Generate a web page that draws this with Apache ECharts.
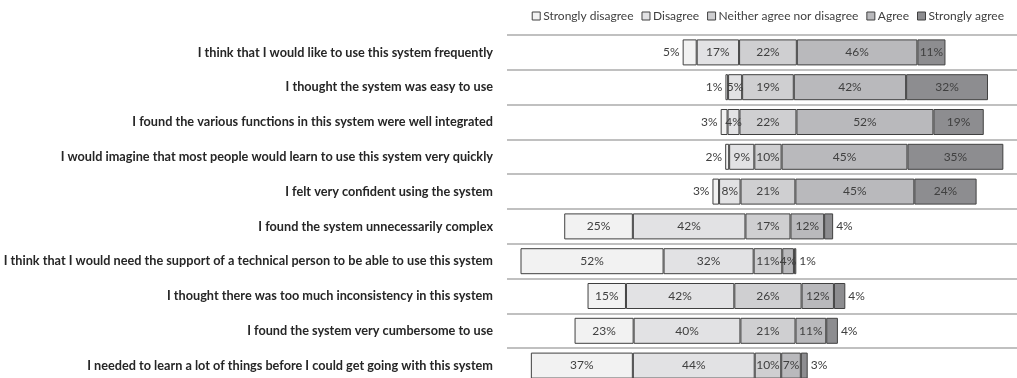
<!DOCTYPE html>
<html>
<head>
<meta charset="utf-8">
<script src="https://cdn.jsdelivr.net/npm/echarts@6/dist/echarts.min.js"></script>
<style>
  html, body { margin: 0; padding: 0; background: #ffffff; overflow: hidden; }
  #chart { width: 1017px; height: 386px; }
</style>
</head>
<body>
<div id="chart"></div>
<script>
// Statements (top to bottom)
const categories = [
  "I think that I would like to use this system frequently",
  "I thought the system was easy to use",
  "I found the various functions in this system were well integrated",
  "I would imagine that most people would learn to use this system very quickly",
  "I felt very confident using the system",
  "I found the system unnecessarily complex",
  "I think that I would need the support of a technical person to be able to use this system",
  "I thought there was too much inconsistency in this system",
  "I found the system very cumbersome to use",
  "I needed to learn a lot of things before I could get going with this system"
];
const seriesNames = ["Strongly disagree", "Disagree", "Neither agree nor disagree", "Agree", "Strongly agree"];

// Plotted segment lengths
const sdVal = [5.3, 1.0, 2.6, 1.5, 2.5, 25.9, 54.0, 14.5, 22.3, 38.5];
const dVal  = [16.0, 5.3, 4.5, 9.5, 8.1, 42.5, 34.0, 40.9, 40.3, 46.0];
const nVal  = [21.8, 19.5, 21.5, 10.3, 20.7, 17.0, 10.8, 25.4, 20.8, 10.0];
const aVal  = [45.5, 42.4, 51.7, 47.5, 44.9, 12.7, 4.4, 12.2, 11.6, 7.4];
const saVal = [10.6, 30.9, 19.0, 36.2, 23.5, 3.4, 0.9, 4.3, 4.4, 2.6];

// Percent labels printed on the segments
const sdPct = [5, 1, 3, 2, 3, 25, 52, 15, 23, 37];
const dPct  = [17, 5, 4, 9, 8, 42, 32, 42, 40, 44];
const nPct  = [22, 19, 22, 10, 21, 17, 11, 26, 21, 10];
const aPct  = [46, 42, 52, 45, 45, 12, 4, 12, 11, 7];
const saPct = [11, 32, 19, 35, 24, 4, 1, 4, 4, 3];

const CENTER = 98.5; // axis value where the neutral segments are centred
const AXIS_MAX = 192.5;
const colors = ["#f2f2f2", "#e2e2e4", "#cfcfd1", "#b9b9bc", "#8d8d90"];

const pad = categories.map((c, i) => CENTER - sdVal[i] - dVal[i] - nVal[i] / 2);

const FONT = "Lato, 'Open Sans', sans-serif";
const labelBase = { show: true, color: "#404040", fontSize: 12, fontFamily: FONT };

function segSeries(name, idx, vals, pcts, outsidePos) {
  return {
    name: name,
    type: "bar",
    stack: "total",
    barWidth: 26,
    itemStyle: { color: colors[idx], borderColor: "#404040", borderWidth: 1 },
    label: Object.assign({}, labelBase, { position: "inside", formatter: p => pcts[p.dataIndex] + "%" }),
    data: vals.map((v, i) => {
      const item = { value: v };
      if (outsidePos && outsidePos(i)) {
        item.label = { position: idx === 0 ? "left" : "right", distance: 3 };
      }
      return item;
    })
  };
}

const chart = echarts.init(document.getElementById("chart"), null, { renderer: "canvas" });
chart.setOption({
  animation: false,
  backgroundColor: "#ffffff",
  legend: {
    data: seriesNames,
    top: 5,
    right: 8,
    icon: "rect",
    itemWidth: 8,
    itemHeight: 8,
    itemGap: 8,
    textStyle: { color: "#404040", fontSize: 12, fontFamily: FONT, padding: [0, 0, 0, -2] },
    itemStyle: { borderColor: "#404040", borderWidth: 1 }
  },
  grid: { left: 507, top: 35, right: 0, height: 348, containLabel: false },
  xAxis: {
    type: "value",
    min: 0,
    max: AXIS_MAX,
    show: false
  },
  yAxis: {
    type: "category",
    data: categories,
    inverse: true,
    axisLine: { show: false },
    axisTick: { show: false },
    splitLine: { show: true, interval: 0, lineStyle: { color: "#c0c0c0", width: 2 } },
    axisLabel: {
      margin: 14,
      color: "#262626",
      fontWeight: "bold",
      fontSize: 12.7,
      fontFamily: FONT
    }
  },
  series: [
    {
      name: "pad",
      type: "bar",
      stack: "total",
      barWidth: 26,
      silent: true,
      itemStyle: { color: "rgba(0,0,0,0)" },
      data: pad
    },
    segSeries(seriesNames[0], 0, sdVal, sdPct, i => i < 5),
    segSeries(seriesNames[1], 1, dVal, dPct, null),
    segSeries(seriesNames[2], 2, nVal, nPct, null),
    segSeries(seriesNames[3], 3, aVal, aPct, null),
    segSeries(seriesNames[4], 4, saVal, saPct, i => i >= 5)
  ]
});
</script>
</body>
</html>
